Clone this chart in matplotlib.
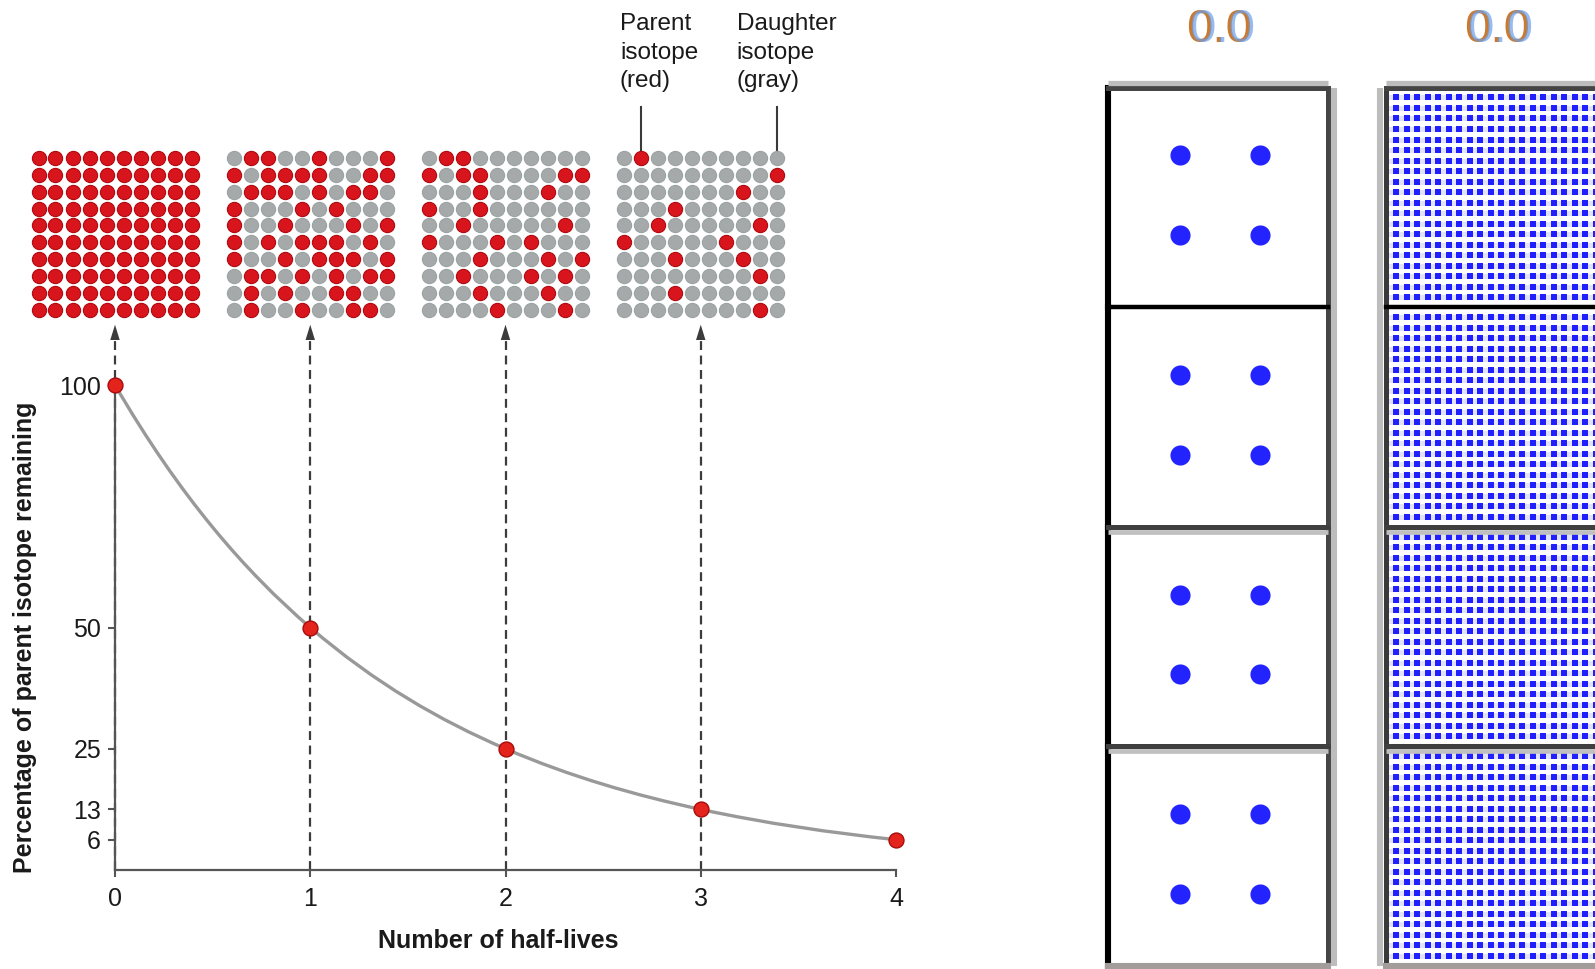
import numpy as np
import matplotlib
matplotlib.use("Agg")
import matplotlib.pyplot as plt
import matplotlib.transforms as mtransforms
from matplotlib.path import Path
from matplotlib.patches import PathPatch

plt.rcParams["font.family"] = ["Liberation Sans", "DejaVu Sans"]

W, H = 1595, 969

# ---- data ----
half_lives = [0, 1, 2, 3, 4]
percent_left = [100, 50, 25, 12.5, 6.25]
x_ticks = [0, 1, 2, 3, 4]
y_ticks = [100, 50, 25, 12.5, 6.25]
y_tick_labels = ["100", "50", "25", "13", "6"]

# 10x10 atom grids above each half-life, R = parent (red), . = daughter (gray)
grid_0 = ["RRRRRRRRRR"] * 10
grid_1 = [
    ".RR..R...R",
    "R.RRRR..RR",
    ".RRR.R.RR.",
    "R...R.R...",
    "R..R...R.R",
    "R.R.RRR.R.",
    "R..R.RRR.R",
    ".RR.R.R.RR",
    ".R.R..RR..",
    ".R..R..RR.",
]
grid_2 = [
    ".RR.......",
    "R.RR....RR",
    "...R...R..",
    "R..R......",
    "..R.....R.",
    "R...R.R...",
    "...R...R.R",
    "..R...R.R.",
    "...R...R..",
    "....R...R.",
]
grid_3 = [
    ".R........",
    ".........R",
    ".......R..",
    "...R......",
    "..R.....R.",
    "R.....R...",
    "...R...R..",
    "........R.",
    "...R......",
    "........R.",
]
grids = [grid_0, grid_1, grid_2, grid_3]

parent_label = "Parent\nisotope\n(red)"
daughter_label = "Daughter\nisotope\n(gray)"
x_label = "Number of half-lives"
y_label = "Percentage of parent isotope remaining"

panel_title = "0.0"
sparse_x = [1, 2, 1, 2]
sparse_y = [2, 2, 1, 1]
dense_n = 20


def box(x0, y0, x1, y1):
    return [x0 / W, 1 - y1 / H, (x1 - x0) / W, (y1 - y0) / H]


fig = plt.figure(figsize=(W / 100, H / 100), dpi=100)
fig.patch.set_facecolor("white")

# ---- decay chart ----
ax = fig.add_axes(box(115, 385, 896, 870))
ax.set_xlim(0, 4)
ax.set_ylim(0, 100)
ax.patch.set_alpha(0)
for side in ["top", "right"]:
    ax.spines[side].set_visible(False)
ax.spines["left"].set_bounds(0, 100)
ax.spines["bottom"].set_bounds(0, 4)
for side in ["left", "bottom"]:
    ax.spines[side].set_color("#555555")
    ax.spines[side].set_linewidth(1.6)
ax.set_xticks(x_ticks)
ax.set_xticklabels([str(t) for t in x_ticks])
ax.set_yticks(y_ticks)
ax.set_yticklabels(y_tick_labels)
ax.tick_params(direction="out", length=5, width=1.5, color="#555555",
               labelsize=18, labelcolor="#1a1a1a")
ax.tick_params(axis="x", pad=7)
ax.tick_params(axis="y", pad=5)

# smooth curve through the points (cubic bezier segments)
verts = [(half_lives[0], percent_left[0])]
codes = [Path.MOVETO]
slopes = []
for i in range(len(percent_left)):
    j = i if i < len(percent_left) - 1 else i - 1
    slopes.append(percent_left[i] * np.log(percent_left[j + 1] / percent_left[j]))
for i in range(len(half_lives) - 1):
    x0, x1 = half_lives[i], half_lives[i + 1]
    y0, y1 = percent_left[i], percent_left[i + 1]
    d = (x1 - x0) / 3
    verts += [(x0 + d, y0 + slopes[i] * d), (x1 - d, y1 - slopes[i + 1] * d), (x1, y1)]
    codes += [Path.CURVE4] * 3
ax.add_patch(PathPatch(Path(verts, codes), fill=False, edgecolor="#999999",
                       lw=2.4, zorder=3, clip_on=False))

# dashed guides and arrows up to the grids
arrow_tip = 113
for x in half_lives[:4]:
    ax.plot([x, x], [0, arrow_tip - 3], ls=(0, (4, 2.5)), color="#3c3c3c",
            lw=1.6, zorder=2, clip_on=False)
    ax.annotate("", xy=(x, arrow_tip), xytext=(x, arrow_tip - 4),
                arrowprops=dict(arrowstyle="-|>,head_length=0.55,head_width=0.17",
                                mutation_scale=20, color="#3c3c3c", lw=0),
                annotation_clip=False)

ax.scatter(half_lives, percent_left, s=115, c="#e3231c", edgecolors="#a80c0c",
           linewidths=1, zorder=5, clip_on=False)

# atom grids
dx = 17 / 195.25
dy = 3.478
top_row = 146.8
for k, g in enumerate(grids):
    for r, row in enumerate(g):
        for c, ch in enumerate(row):
            px = k + (c - 4.5) * dx
            py = top_row - r * dy
            if ch == "R":
                ax.scatter(px, py, s=105, c="#d8141c", edgecolors="#b00a10",
                           linewidths=0.8, zorder=6, clip_on=False)
            else:
                ax.scatter(px, py, s=105, c="#a6a9a9", edgecolors="#9aa3a3",
                           linewidths=0.8, zorder=6, clip_on=False)

# leader lines for the legend labels
for c in [1, 9]:
    px = 3 + (c - 4.5) * dx
    ax.plot([px, px], [top_row, 157.3], color="#3a3a3a", lw=1.5, zorder=4,
            clip_on=False)
ax.text(2.586, 176.6, parent_label, ha="left", va="top", fontsize=17.5,
        color="#1a1a1a", linespacing=1.36, clip_on=False)
ax.text(3.185, 176.6, daughter_label, ha="left", va="top", fontsize=17.5,
        color="#1a1a1a", linespacing=1.36, clip_on=False)

fig.text(25 / W, 1 - 637 / H, y_label, rotation=90, ha="center", va="center",
         fontsize=18, fontweight="bold", color="#1a1a1a")
fig.text(498 / W, 1 - 941 / H, x_label, ha="center", va="center",
         fontsize=18, fontweight="bold", color="#1a1a1a")

# ---- right-hand panels ----
col_x = [1108, 1386]
panel_w = 220
panel_top = 87.5
panel_h = 219.6
dense_pts = np.arange(dense_n)
gx, gy = np.meshgrid(dense_pts, dense_pts)


def edge_line(pax, xs, ys, dxp, dyp, color, lw):
    tr = mtransforms.offset_copy(pax.transAxes, fig=fig, x=dxp, y=dyp, units="dots")
    pax.plot(xs, ys, transform=tr, color=color, lw=lw, clip_on=False,
             solid_capstyle="butt", zorder=10)


for ci, x0 in enumerate(col_x):
    for r in range(4):
        y0 = panel_top + r * panel_h
        pax = fig.add_axes(box(x0, y0, x0 + panel_w, y0 + panel_h))
        pax.patch.set_visible(False)
        pax.set_zorder(10 - r)
        pax.set_xticks([])
        pax.set_yticks([])
        if ci == 0:
            pax.scatter(sparse_x, sparse_y, s=210, c="#2323ff", linewidths=0)
            pax.set_xlim(0.1, 2.85)
            pax.set_ylim(0.1, 2.85)
            pax.spines["left"].set_color("black")
            pax.spines["left"].set_linewidth(4.4)
            pax.spines["right"].set_color("#454545")
            pax.spines["right"].set_linewidth(3.6)
            edge_line(pax, [1, 1], [0, 1], 6, 0, "#bdbdbd", 4.4)
        else:
            pax.hlines(dense_pts, -2, dense_n + 1, color="#e2e2fb", lw=3.6, zorder=1)
            pax.scatter(gx.ravel(), gy.ravel(), s=13, marker="s", c="#2020ff",
                        linewidths=0, zorder=2)
            pax.set_xlim(-0.95, dense_n - 0.05)
            pax.set_ylim(-0.95, dense_n - 0.05)
            pax.spines["left"].set_color("#3a3a3a")
            pax.spines["left"].set_linewidth(3.6)
            pax.spines["right"].set_visible(False)
            edge_line(pax, [0, 0], [0, 1], -6, 0, "#bdbdbd", 4.4)
        # top / bottom borders
        if r == 0:
            pax.spines["top"].set_color("#454545")
            pax.spines["top"].set_linewidth(3.6)
            edge_line(pax, [0, 1], [1, 1], 0, 5, "#bdbdbd", 3.8)
        else:
            pax.spines["top"].set_visible(False)
        if r == 0:
            pax.spines["bottom"].set_color("black")
            pax.spines["bottom"].set_linewidth(3.2)
        elif r < 3:
            pax.spines["bottom"].set_color("#3f3f3f")
            pax.spines["bottom"].set_linewidth(3.6)
            edge_line(pax, [0, 1], [0, 0], 0, -5, "#c0c0c0", 3.4)
        else:
            pax.spines["bottom"].set_color("#a29c9a")
            pax.spines["bottom"].set_linewidth(4.4)
    cx = x0 + panel_w / 2 + 3
    fig.text((cx - 1.5) / W, 1 - 30 / H, panel_title, ha="center", va="center",
             fontsize=34, fontstretch="condensed", color="#c97a30")
    fig.text((cx + 1.5) / W, 1 - 30 / H, panel_title, ha="center", va="center",
             fontsize=34, fontstretch="condensed", color="#6b9fe8", alpha=0.7)

fig.savefig("out.png", dpi=100, facecolor="white")
